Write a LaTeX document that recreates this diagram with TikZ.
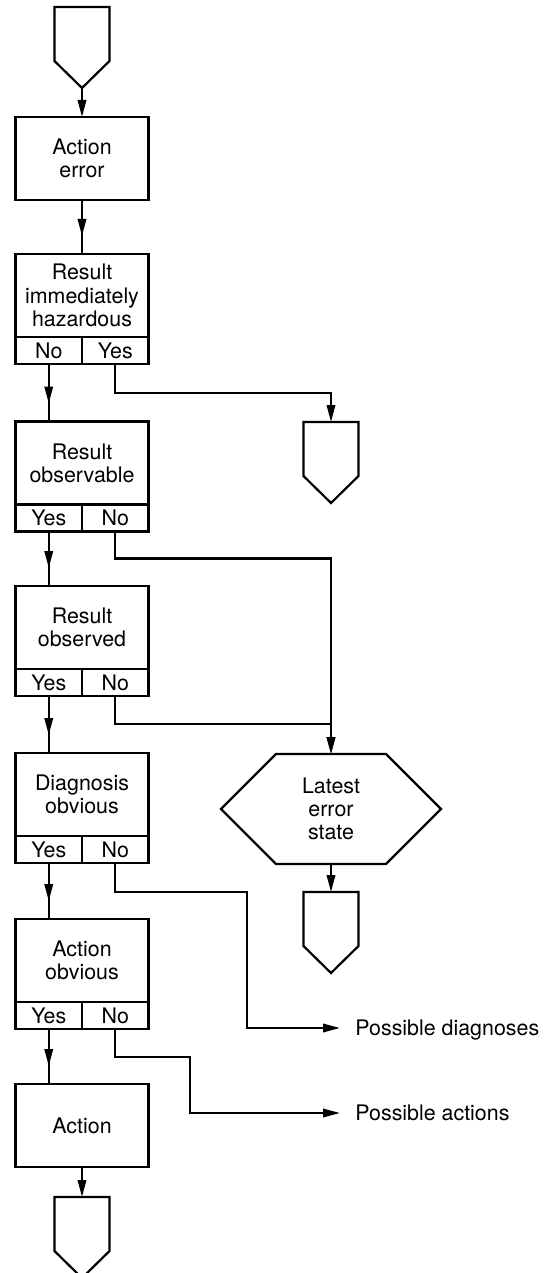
\documentclass[tikz,border=0pt]{standalone}
\usepackage{fontspec}
\setmainfont{TeX Gyre Heros}
\usetikzlibrary{arrows.meta, positioning, shapes.symbols, decorations.markings}

\tikzset{
  box/.style={draw, line width=1.1pt, minimum width=66.5pt, minimum height=41.5pt,
    align=center, inner sep=0pt, outer sep=0pt},
  cell/.style={draw, line width=1.1pt, minimum width=33.25pt, minimum height=13.5pt,
    inner sep=0pt, outer sep=0pt, anchor=north west},
  hexa/.style={draw, line width=1.1pt, shape=signal, signal to=west and east,
    signal pointer angle=90, minimum width=110pt, minimum height=55pt,
    align=center, inner sep=0pt, outer sep=0pt},
  outcome/.style={anchor=west, inner sep=0pt, text depth=0pt},
  flow/.style={line width=1.1pt, -{Triangle[length=8.5pt,width=4.2pt]}},
  midflow/.style={line width=1.1pt, postaction={decorate}, decoration={markings,
    mark=at position -9pt with {\arrow{Triangle[length=8.5pt,width=4.2pt]}}}},
  pics/offpage/.style={code={
    \draw[line width=1.1pt] (-27.5,0) -- (27.5,0) -- (27.5,54) -- (0,81) -- (-27.5,54) -- cycle;
    \coordinate (-top) at (0,0);
    \coordinate (-tip) at (0,81);
  }}
}

\begin{document}
\begin{tikzpicture}[x=0.5pt, y=-0.5pt, font=\fontsize{10.7}{11.6}\selectfont]
  \useasboundingbox (0,0) rectangle (551,1273);
  % ---- left column: tests with Yes/No cells underneath ----
  \pic (start) at (82,7) {offpage};
  \node[box] (err) at (82,158.5) {Action\\error};
  \node[box] (haz) at (82,295.5) {Result\\immediately\\hazardous};
  \node[cell] (hazno) at (haz.south west) {No};
  \node[cell] (hazyes) at (hazno.north east) {Yes};
  \node[box] (obs) at (82,463) {Result\\observable};
  \node[cell] (obsyes) at (obs.south west) {Yes};
  \node[cell] (obsno) at (obsyes.north east) {No};
  \node[box] (obd) at (82,627.5) {Result\\observed};
  \node[cell] (obdyes) at (obd.south west) {Yes};
  \node[cell] (obdno) at (obdyes.north east) {No};
  \node[box] (dia) at (82,794.5) {Diagnosis\\obvious};
  \node[cell] (diayes) at (dia.south west) {Yes};
  \node[cell] (diano) at (diayes.north east) {No};
  \node[box] (aob) at (82,960.5) {Action\\obvious};
  \node[cell] (aobyes) at (aob.south west) {Yes};
  \node[cell] (aobno) at (aobyes.north east) {No};
  \node[box] (act) at (82,1125.5) {Action};
  \pic (stopC) at (82,1197) {offpage};
  % ---- right column: exits ----
  \pic (stopA) at (331,422) {offpage};
  \node[hexa] (latest) at (331,809) {Latest\\error\\state};
  \pic (stopB) at (331,892) {offpage};
  \node[outcome] (diag) at (355,1028) {Possible diagnoses};
  \node[outcome] (acts) at (355,1113) {Possible actions};
  \coordinate (diagbend) at (247,1028);
  \coordinate (actsbend) at (190,1113);
  % ---- connectors ----
  \draw[flow] (start-tip) -- (err.north);
  \draw[midflow] (err.south) -- (haz.north);
  \draw[midflow] (hazno.south) -- (hazno.south |- obs.north);
  \draw[flow] (hazyes.south) -- ++(0,29) -| (stopA-top);
  \draw[midflow] (obsyes.south) -- (obsyes.south |- obd.north);
  \draw[flow] (obsno.south) -- ++(0,27) -| (latest.north);
  \draw[midflow] (obdyes.south) -- (obdyes.south |- dia.north);
  \draw[flow] (obdno.south) -- ++(0,28) -| (latest.north);
  \draw[midflow] (diayes.south) -- (diayes.south |- aob.north);
  \draw[flow, shorten >=7.5pt] (diano.south) -- ++(0,29) -| (diagbend) -- (diag.west);
  \draw[midflow] (aobyes.south) -- (aobyes.south |- act.north);
  \draw[flow, shorten >=7.5pt] (aobno.south) -- ++(0,28) -| (actsbend) -- (acts.west);
  \draw[flow] (act.south) -- (stopC-top);
  \draw[flow] (latest.south) -- (stopB-top);
\end{tikzpicture}
\end{document}
